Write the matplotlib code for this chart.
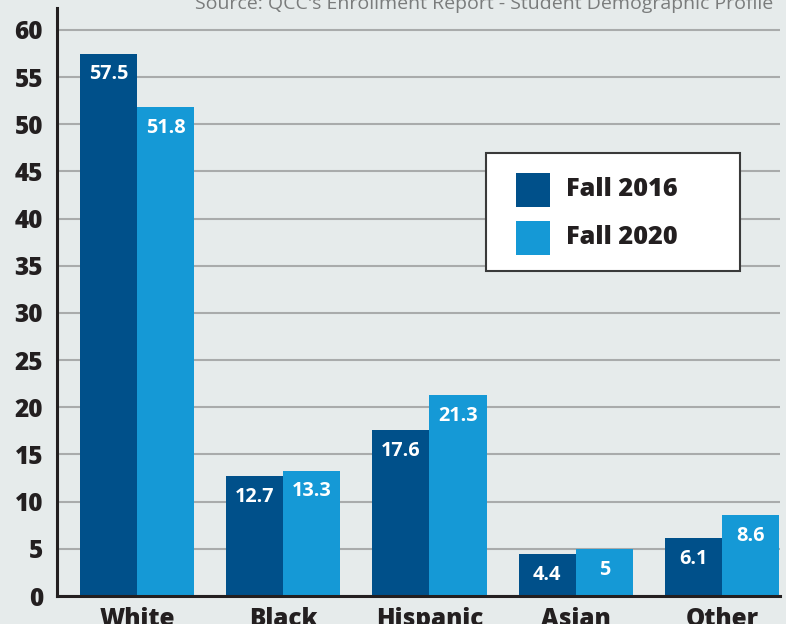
import matplotlib
matplotlib.use("Agg")
import matplotlib.pyplot as plt
import numpy as np
from matplotlib.patches import Rectangle

categories = ["White", "Black", "Hispanic", "Asian", "Other"]
fall_2016 = [57.5, 12.7, 17.6, 4.4, 6.1]
fall_2020 = [51.8, 13.3, 21.3, 5, 8.6]
series_labels = ["Fall 2016", "Fall 2020"]
yticks = [0, 5, 10, 15, 20, 25, 30, 35, 40, 45, 50, 55, 60]
source = "Source: QCC's Enrollment Report - Student Demographic Profile"

C16 = "#00508a"
C20 = "#1599d6"
BG = "#e6ebeb"
DARK = "#231f20"

plt.rcParams['font.family'] = ['Open Sans', 'DejaVu Sans']

W, H = 786, 624
fig = plt.figure(figsize=(W / 100, H / 100), dpi=100, facecolor=BG)
ax = fig.add_axes([57 / W, 1 - 596 / H, (780 - 57) / W, (596 - 8) / H])
ax.set_facecolor(BG)

x = np.arange(len(categories))
bw = 0.39
b1 = ax.bar(x - bw / 2, fall_2016, bw, color=C16, zorder=3)
b2 = ax.bar(x + bw / 2, fall_2020, bw, color=C20, zorder=3)

for bars, vals in ((b1, fall_2016), (b2, fall_2020)):
    for r, v in zip(bars, vals):
        ax.annotate(f"{v:g}", (r.get_x() + r.get_width() / 2, v),
                    xytext=(0, -15), textcoords="offset points",
                    ha="center", va="center", color="white",
                    fontsize=14.3, fontweight="bold", zorder=4)

ax.set_xlim(-0.547, 4.397)
ax.set_ylim(0, 62.33)
ax.set_yticks(yticks)
ax.set_yticklabels([str(t) for t in yticks], fontsize=17.5, fontweight="heavy", color=DARK)
ax.set_xticks(x)
ax.set_xticklabels(categories, fontsize=17.5, fontweight="heavy", color=DARK)
ax.tick_params(axis="both", length=0)
ax.tick_params(axis="y", pad=10)
ax.tick_params(axis="x", pad=8)

ax.grid(axis="y", color="#a9abab", linewidth=1.5, zorder=0)
ax.set_axisbelow(True)
for s in ("top", "right"):
    ax.spines[s].set_visible(False)
for s in ("left", "bottom"):
    ax.spines[s].set_color(DARK)
    ax.spines[s].set_linewidth(2.2)
    ax.spines[s].set_zorder(5)

# legend (drawn in figure pixel coordinates)
def fx(px):
    return px / W

def fy(py):
    return 1 - py / H

fig.patches.append(Rectangle((fx(486), fy(271)), fx(740) - fx(486), fy(153) - fy(271),
                             transform=fig.transFigure, facecolor="white",
                             edgecolor="#3a3a3a", linewidth=1.5, zorder=10))
for i, (lab, col) in enumerate(zip(series_labels, [C16, C20])):
    top = 173 + i * 48
    fig.patches.append(Rectangle((fx(516), fy(top + 34)), fx(550) - fx(516), fy(top) - fy(top + 34),
                                 transform=fig.transFigure, facecolor=col,
                                 edgecolor="none", zorder=11))
    fig.text(fx(566), fy(top + 17), lab, fontsize=18.2, fontweight="heavy",
             color=DARK, ha="left", va="center", zorder=12)

fig.text(fx(773), fy(9), source, fontsize=14, color="#7a7c7c",
         ha="right", va="baseline")

fig.savefig("out.png", dpi=100, facecolor=BG)
